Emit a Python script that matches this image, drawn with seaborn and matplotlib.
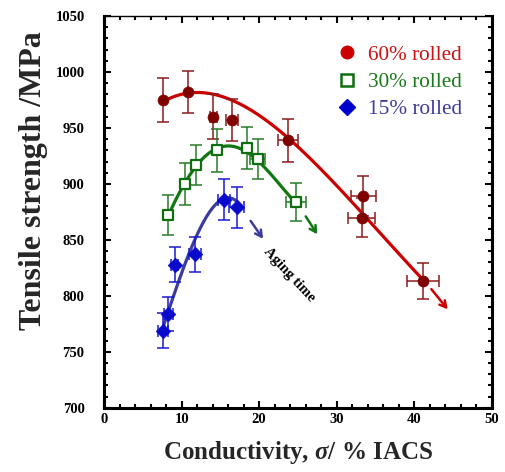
import numpy as np
import pandas as pd
import matplotlib
matplotlib.use("Agg")
import matplotlib.pyplot as plt
from matplotlib.lines import Line2D
from matplotlib.ticker import MultipleLocator
import seaborn as sns

sns.set_style("ticks")
plt.rcParams["font.family"] = ["Liberation Serif", "DejaVu Serif"]
plt.rcParams["mathtext.fontset"] = "custom"
plt.rcParams["mathtext.it"] = "Liberation Serif:italic:bold"
plt.rcParams["mathtext.rm"] = "Liberation Serif:bold"
plt.rcParams["mathtext.bf"] = "Liberation Serif:bold"

x60 = [7.6, 10.8, 14.1, 16.5, 23.7, 33.4, 33.2, 41.1]
y60 = [975, 982, 960, 957, 939, 889, 870, 813]
xe60 = [0.0, 0.0, 0.5, 0.8, 1.3, 1.6, 1.7, 2.1]
ye60 = [20, 19, 20, 19, 19, 18, 17, 16]

x30 = [8.2, 10.4, 11.9, 14.6, 18.4, 19.8, 24.8]
y30 = [872, 900, 917, 930, 932, 922, 884]
xe30 = [0.0, 0.0, 0.0, 0.5, 0.5, 1.0, 1.3]
ye30 = [18, 19, 18, 19, 19, 18, 17]

x15 = [7.6, 8.3, 9.1, 11.7, 15.5, 17.1]
y15 = [769, 784, 828, 837, 886, 879]
xe15 = [0.6, 0.6, 0.5, 0.75, 0.8, 1.0]
ye15 = [16, 15, 16, 16, 18, 18]

# ---- trend curves (read along the drawn lines of the reference) ----
cx60 = [7.6, 9.3, 11.5, 13.6, 15.8, 17.9, 20.05, 22.2, 23.9, 26.5, 29.05, 31.6, 33.3, 35.9, 38.5, 41.0]
cy60 = [974.4, 978.6, 980.4, 979.5, 976.5, 971.4, 963.1, 951.2, 939.3, 921.4, 903.6, 887.2, 873.8, 854.5, 835.1, 814.3]

cx30 = [8.27, 9.34, 10.41, 11.9, 13.4, 14.7, 15.98, 17.26, 18.55, 20.05, 21.76, 23.26, 24.77]
cy30 = [872.3, 885.7, 900.6, 916.9, 927.4, 931.9, 933.9, 931.9, 927.4, 920.0, 906.5, 894.6, 882.7]

cx15 = [7.71, 8.48, 9.55, 10.63, 11.9, 13.2, 14.5, 15.77, 16.84, 17.9]
cy15 = [774.0, 790.4, 811.3, 832.1, 853.0, 870.8, 882.7, 887.2, 885.7, 878.3]

labels = ["60% rolled", "30% rolled", "15% rolled"]
xticks = [0, 10, 20, 30, 40, 50]
yticks = [700, 750, 800, 850, 900, 950, 1000, 1050]

# ---- styles ----
pt_col = {"60": "#800000", "30": "#0f6e0f", "15": "#0a0acd"}
err_col = {"60": "#8b1c1c", "30": "#2a7a2a", "15": "#1a1ad0"}
line_col = {"60": "#cc0000", "30": "#117711", "15": "#3c3c9c"}
txt_col = ["#cc1111", "#1a7a1a", "#3c3c9c"]

df60 = pd.DataFrame({"x": x60, "y": y60})
df30 = pd.DataFrame({"x": x30, "y": y30})
df15 = pd.DataFrame({"x": x15, "y": y15})
cdf60 = pd.DataFrame({"x": cx60, "y": cy60})
cdf30 = pd.DataFrame({"x": cx30, "y": cy30})
cdf15 = pd.DataFrame({"x": cx15, "y": cy15})

fig = plt.figure(figsize=(5.05, 4.72), dpi=100)
ax = fig.add_axes([0.206, 0.136, 0.768, 0.830])

# smooth trend curves (polynomial smoothing of the traced curves)
for cdf, k, order in [(cdf60, "60", 4), (cdf30, "30", 4), (cdf15, "15", 3)]:
    sns.regplot(data=cdf, x="x", y="y", order=order, ci=None, scatter=False, truncate=True,
                line_kws=dict(color=line_col[k], lw=2.3, zorder=2, solid_capstyle="round"),
                ax=ax)

# error bars
for xs, ys, xe, ye, k in [(x60, y60, xe60, ye60, "60"), (x30, y30, xe30, ye30, "30"),
                          (x15, y15, xe15, ye15, "15")]:
    ax.errorbar(xs, ys, xerr=xe, yerr=ye, fmt="none", ecolor=err_col[k],
                elinewidth=1.1, capsize=4, capthick=1.1, zorder=3)

# markers
sns.scatterplot(data=df60, x="x", y="y", marker="o", s=62, color=pt_col["60"],
                edgecolor=pt_col["60"], linewidth=0.5, zorder=4, ax=ax, legend=False)
sns.scatterplot(data=df30, x="x", y="y", marker="s", s=62, facecolor="white",
                edgecolor=pt_col["30"], linewidth=1.6, zorder=4, ax=ax, legend=False)
sns.scatterplot(data=df15, x="x", y="y", marker="D", s=55, color=pt_col["15"],
                edgecolor=pt_col["15"], linewidth=0.5, zorder=4, ax=ax, legend=False)

# aging arrows
arrows = [((18.9, 867), (20.5, 851), line_col["15"]),
          ((26.0, 871), (27.5, 855), line_col["30"]),
          ((42.2, 806), (44.3, 788), line_col["60"])]
for (x0, y0), (x1, y1), c in arrows:
    ax.annotate("", xy=(x1, y1), xytext=(x0, y0),
                arrowprops=dict(arrowstyle="->,head_length=0.45,head_width=0.25",
                                color=c, lw=1.8, shrinkA=0, shrinkB=0))
ax.text(23.9, 819, "Aging time", rotation=-47, ha="center", va="center",
        fontsize=10.5, fontweight="bold", color="black")

# axes
ax.set_xlim(0, 50)
ax.set_ylim(700, 1050)
ax.set_xticks(xticks)
ax.set_yticks(yticks)
ax.xaxis.set_minor_locator(MultipleLocator(2))
ax.yaxis.set_minor_locator(MultipleLocator(10))
ax.tick_params(which="both", direction="in", top=True, right=True, colors="black",
               labelsize=10.5, width=1.5)
ax.tick_params(axis="x", which="both", pad=4)
ax.tick_params(axis="y", which="both", pad=14)
ax.tick_params(which="major", length=5)
ax.tick_params(which="minor", length=3)
for lab in ax.get_xticklabels() + ax.get_yticklabels():
    lab.set_fontweight("bold")
for side in ["left", "bottom", "right"]:
    ax.spines[side].set_linewidth(2.2)
ax.spines["top"].set_linewidth(1.0)
for s in ax.spines.values():
    s.set_color("black")

ax.set_xlabel(r"Conductivity, $\sigma$/ % IACS", fontsize=18, fontweight="bold", labelpad=9)
ax.set_ylabel("Tensile strength /MPa", fontsize=23, fontweight="bold")
ax.yaxis.set_label_coords(-0.145, 0.58)

handles = [
    Line2D([], [], ls="none", marker="o", markersize=9, color="#cc0000"),
    Line2D([], [], ls="none", marker="s", markersize=8, markerfacecolor="white",
           markeredgecolor=pt_col["30"], markeredgewidth=1.8),
    Line2D([], [], ls="none", marker="D", markersize=8, color="#0000cc"),
]
ax.legend(handles, labels, loc="upper right", bbox_to_anchor=(0.972, 0.975),
          frameon=False, fontsize=15.3, labelcolor=txt_col, handletextpad=0.4,
          labelspacing=0.35, handlelength=1.2)

fig.savefig("out.png", dpi=100)
